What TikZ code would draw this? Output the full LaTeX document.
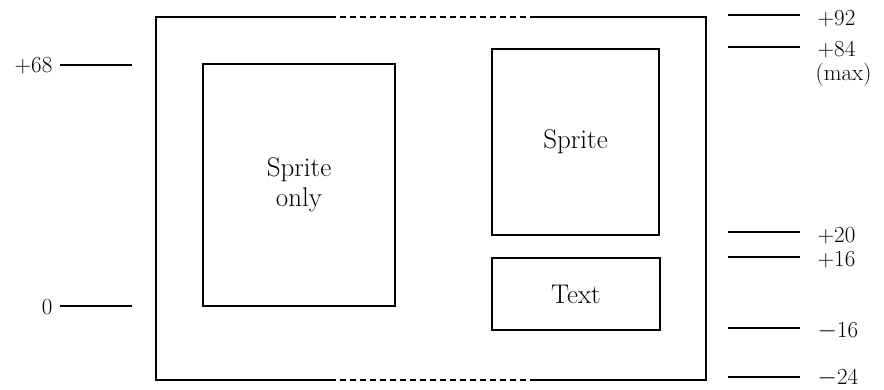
\documentclass[tikz,border=0pt]{standalone}
\begin{document}
\begin{tikzpicture}[x=1pt,y=-1pt,
  line width=1.3pt,
  box/.style={draw, line width=1.3pt, align=center, inner sep=0pt,
    font=\fontsize{27}{30}\selectfont},
  tick/.style={line width=1.3pt},
  lab/.style={inner sep=0pt, font=\fontsize{23}{24}\selectfont}]
\useasboundingbox (0,0) rectangle (884,389);
% outer frame
\coordinate (tl) at (156,17);
\coordinate (tr) at (706,17);
\coordinate (bl) at (156,380);
\coordinate (br) at (706,380);
\coordinate (td1) at (330,17);
\coordinate (td2) at (534,17);
\coordinate (bd1) at (330,380);
\coordinate (bd2) at (536,380);
\draw (td1) -- (tl) -- (bl) -- (bd1);
\draw (td2) -- (tr) -- (br) -- (bd2);
\draw[dashed, dash pattern=on 6pt off 4pt, line width=1.2pt] (td1) -- (td2);
\draw[dashed, dash pattern=on 6pt off 4pt, line width=1.2pt] (bd1) -- (bd2);
% inner boxes
\node[box, minimum width=192pt, minimum height=242pt] (only) at (299,185) {Sprite\\only};
\node[box, minimum width=167pt, minimum height=186pt] (sprite) at (575.5,142) {Sprite};
\node[box, minimum width=168pt, minimum height=72pt] (text) at (576,294) {Text};
% left ticks
\coordinate (l68a) at (60,65);  \coordinate (l68b) at (132,65);
\coordinate (l0a) at (60,306);  \coordinate (l0b) at (132,306);
\draw[tick] (l68a) -- (l68b);
\draw[tick] (l0a) -- (l0b);
\node[lab, anchor=east] (t68) at (53,66) {+68};
\node[lab, anchor=east] (t0) at (53,307) {0};
% right ticks
\foreach \n/\y in {r92/15, r84/47, r20/232, r16/257, rm16/328, rm24/377}{
  \coordinate (\n a) at (728,\y);
  \coordinate (\n b) at (800,\y);
  \draw[tick] (\n a) -- (\n b);
}
\node[lab, anchor=west] (t92) at (817,19) {+92};
\node[lab, anchor=west] (t84) at (817,50) {+84};
\node[lab, anchor=west] (tmax) at (815,75) {(max)};
\node[lab, anchor=west] (t20) at (817,236) {+20};
\node[lab, anchor=west] (t16) at (817,260) {+16};
\node[lab, anchor=west] (tm16) at (817,331) {$-$16};
\node[lab, anchor=west] (tm24) at (817,378) {$-$24};
\end{tikzpicture}
\end{document}
